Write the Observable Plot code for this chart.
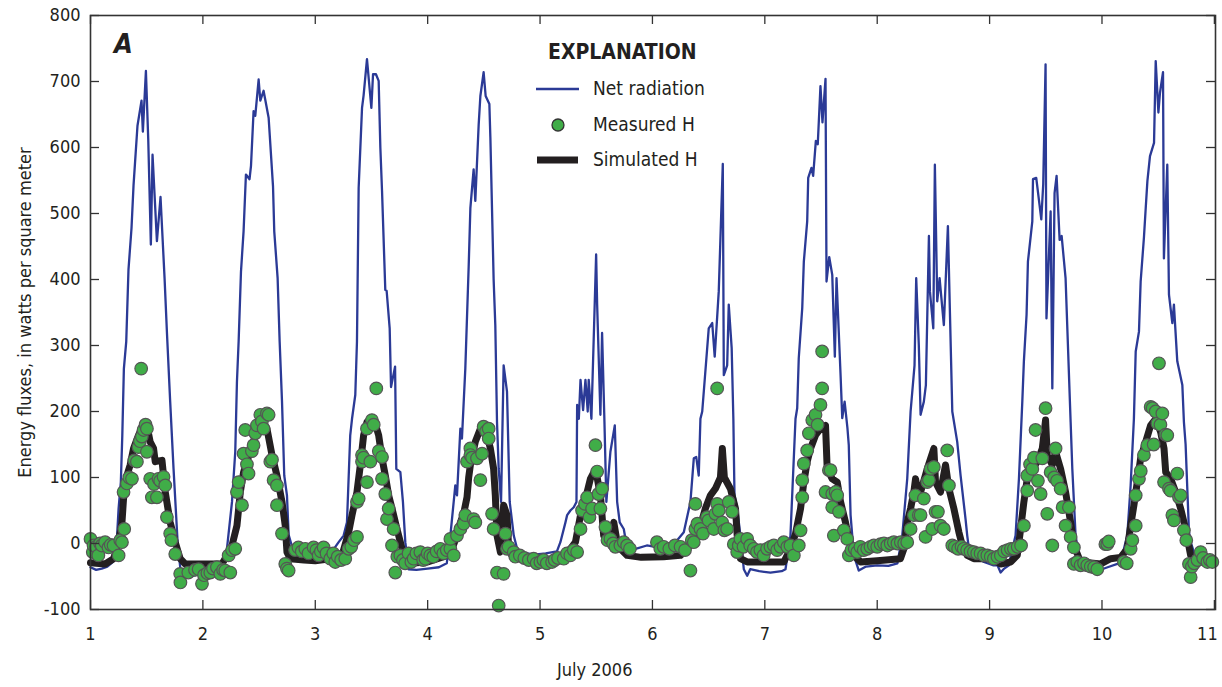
<!DOCTYPE html>
<html>
<head>
<meta charset="utf-8">
<script src="https://cdn.jsdelivr.net/npm/d3@7"></script>
<script src="https://cdn.jsdelivr.net/npm/@observablehq/plot@0.6"></script>
<style>
  html, body { margin: 0; padding: 0; background: #fff; }
  #wrap { position: relative; width: 1222px; height: 687px; font-family: "Liberation Sans Narrow", "DejaVu Sans Condensed", "Arial Narrow", sans-serif; font-stretch: condensed; color: #231f20; }
  .ov { position: absolute; white-space: nowrap; }
  #panel { left: 114px; top: 28px; font-size: 27px; font-weight: bold; font-style: italic; }
  #legtitle { left: 548px; top: 40px; font-size: 21px; font-weight: bold; }
  .legtxt { font-size: 19px; }
  #xlabel { left: 557px; top: 659px; font-size: 18px; }
</style>
</head>
<body>
<div id="wrap">
  <div id="chart"></div>
  <div class="ov" id="panel">A</div>
  <div class="ov" id="legtitle">EXPLANATION</div>
  <svg class="ov" style="left:530px;top:75px" width="60" height="100">
    <line x1="6" x2="49" y1="14" y2="14" stroke="#2b3a96" stroke-width="2.5"></line>
    <circle cx="28" cy="50" r="6" fill="#40ad48" stroke="#333" stroke-width="1.3"></circle>
    <line x1="7" x2="48" y1="85" y2="85" stroke="#231f20" stroke-width="7"></line>
  </svg>
  <div class="ov legtxt" style="left:593px;top:77px">Net radiation</div>
  <div class="ov legtxt" style="left:593px;top:113px">Measured H</div>
  <div class="ov legtxt" style="left:593px;top:148px">Simulated H</div>
  <div class="ov" id="xlabel">July 2006</div>
</div>
<script>
// ---- tick values ----
const xTicks = [1, 2, 3, 4, 5, 6, 7, 8, 9, 10, 11];
const yTicks = [-100, 0, 100, 200, 300, 400, 500, 600, 700, 800];

// ---- Net radiation: [day of July 2006, W/m2] ----
const netRadiation = [
  [1.00,-36],[1.05,-40],[1.10,-38],[1.15,-35],[1.20,-28],[1.235,7],[1.25,53],[1.27,93],[1.283,164],[1.297,265],[1.318,306],[1.338,415],[1.365,478],[1.383,543],[1.418,633],[1.454,671],[1.466,624],[1.493,716],[1.514,611],[1.537,453],[1.552,589],[1.591,458],[1.623,525],[1.659,402],[1.68,320],[1.709,215],[1.739,113],[1.775,2],[1.80,-39],[1.85,-48],[1.90,-50],[1.95,-47],[2.00,-45],[2.10,-48],[2.18,-45],
  [2.214,-8],[2.259,63],[2.288,139],[2.303,245],[2.318,306],[2.339,412],[2.362,473],[2.383,559],[2.415,552],[2.428,572],[2.451,655],[2.466,648],[2.496,703],[2.511,671],[2.54,686],[2.55,677],[2.585,645],[2.624,541],[2.635,473],[2.665,402],[2.683,306],[2.704,215],[2.724,103],[2.748,73],[2.763,13],[2.807,-13],[2.85,-12],[2.95,-15],[3.05,-14],[3.15,-12],
  [3.208,2],[3.252,12],[3.282,32],[3.311,164],[3.327,189],[3.356,225],[3.371,306],[3.386,539],[3.416,660],[3.43,679],[3.46,734],[3.499,660],[3.514,711],[3.54,711],[3.564,701],[3.579,600],[3.594,534],[3.623,384],[3.635,383],[3.662,326],[3.674,237],[3.71,268],[3.721,113],[3.757,108],[3.78,63],[3.801,2],[3.831,-39],[3.9,-40],[4.0,-38],[4.1,-36],[4.17,-30],
  [4.202,12],[4.246,88],[4.261,73],[4.291,174],[4.305,159],[4.335,265],[4.365,420],[4.38,508],[4.409,567],[4.424,519],[4.454,635],[4.469,678],[4.498,714],[4.516,678],[4.549,666],[4.558,615],[4.587,400],[4.602,330],[4.617,184],[4.632,113],[4.653,63],[4.676,270],[4.706,230],[4.73,63],[4.766,12],[4.796,-8],[4.85,-14],[4.95,-17],[5.05,-15],[5.15,-12],
  [5.181,2],[5.226,32],[5.241,43],[5.27,50],[5.30,55],[5.324,63],[5.33,210],[5.345,189],[5.36,248],[5.383,202],[5.404,248],[5.424,200],[5.433,248],[5.457,189],[5.499,438],[5.508,362],[5.537,195],[5.552,319],[5.573,184],[5.59,63],[5.626,139],[5.665,179],[5.686,63],[5.709,32],[5.745,22],[5.775,-8],[5.85,-8],[5.95,-3],[6.05,-6],[6.15,0],[6.22,5],
  [6.279,17],[6.338,63],[6.368,129],[6.39,131],[6.412,103],[6.427,189],[6.443,200],[6.501,326],[6.532,334],[6.554,283],[6.59,382],[6.626,575],[6.635,255],[6.665,270],[6.679,362],[6.705,296],[6.72,189],[6.73,73],[6.754,53],[6.783,12],[6.813,-39],[6.843,-49],[6.87,-39],[6.95,-42],[7.05,-44],[7.15,-42],[7.184,-39],
  [7.228,12],[7.273,189],[7.288,205],[7.302,281],[7.333,357],[7.347,427],[7.377,488],[7.386,554],[7.415,569],[7.43,557],[7.454,610],[7.471,605],[7.495,693],[7.513,638],[7.54,704],[7.549,397],[7.573,434],[7.6,407],[7.623,283],[7.638,402],[7.674,255],[7.689,190],[7.71,215],[7.735,175],[7.747,149],[7.763,43],[7.792,-18],[7.836,-41],[7.9,-35],[8.0,-33],[8.1,-34],[8.18,-30],
  [8.223,12],[8.267,98],[8.297,200],[8.332,270],[8.347,402],[8.37,301],[8.386,195],[8.415,215],[8.433,240],[8.46,466],[8.469,382],[8.499,326],[8.513,574],[8.534,367],[8.555,402],[8.593,331],[8.629,481],[8.646,357],[8.668,200],[8.712,154],[8.742,103],[8.786,37],[8.801,12],[8.816,-8],[8.87,-20],[8.95,-28],[9.03,-33],[9.07,-33],[9.098,-44],[9.13,-38],[9.172,-33],[9.2,-10],
  [9.231,12],[9.261,98],[9.291,215],[9.305,276],[9.329,347],[9.341,427],[9.38,488],[9.386,552],[9.415,554],[9.46,491],[9.477,544],[9.498,726],[9.506,341],[9.543,503],[9.558,235],[9.578,531],[9.596,557],[9.623,460],[9.641,466],[9.676,402],[9.721,184],[9.736,113],[9.765,12],[9.795,-18],[9.85,-28],[9.9,-33],[9.96,-38],[10.0,-39],[10.05,-36],[10.15,-30],
  [10.195,-8],[10.225,12],[10.255,88],[10.284,189],[10.3,291],[10.329,321],[10.344,397],[10.373,463],[10.389,508],[10.404,549],[10.427,587],[10.463,607],[10.478,731],[10.502,653],[10.516,683],[10.543,714],[10.551,432],[10.581,574],[10.596,377],[10.626,334],[10.64,362],[10.67,276],[10.715,240],[10.729,184],[10.744,150],[10.774,17],[10.789,2],[10.818,-13],[10.85,-20],[10.95,-22],[11.0,-25]
];

// ---- Simulated sensible heat flux H ----
const simulatedH = [
  [1.00,-29],[1.13,-31],[1.205,-23],[1.25,2],[1.28,32],[1.294,68],[1.324,103],[1.353,119],[1.383,144],[1.427,164],[1.472,182],[1.502,179],[1.531,154],[1.561,144],[1.576,124],[1.636,126],[1.65,103],[1.665,78],[1.709,32],[1.754,2],[1.798,-23],[1.843,-31],[2.0,-31],[2.17,-31],
  [2.214,-18],[2.259,-3],[2.303,27],[2.333,78],[2.362,108],[2.392,124],[2.437,149],[2.481,169],[2.526,184],[2.57,174],[2.615,134],[2.659,103],[2.704,63],[2.733,27],[2.748,-13],[2.778,-23],[2.9,-25],[3.0,-26],[3.1,-24],[3.238,-18],
  [3.297,17],[3.327,43],[3.371,78],[3.401,119],[3.43,164],[3.46,184],[3.49,189],[3.52,189],[3.564,164],[3.594,129],[3.623,103],[3.653,73],[3.683,53],[3.727,22],[3.757,2],[3.787,-18],[3.831,-30],[4.0,-28],[4.142,-20],
  [4.217,-8],[4.261,12],[4.291,32],[4.32,45],[4.35,70],[4.365,100],[4.38,119],[4.424,154],[4.469,174],[4.513,174],[4.558,144],[4.587,113],[4.602,73],[4.617,12],[4.647,-13],[4.676,58],[4.706,43],[4.721,-8],[4.75,-18],[4.796,-23],[4.914,-23],[5.09,-25],
  [5.196,-18],[5.27,-8],[5.315,2],[5.36,43],[5.389,63],[5.419,78],[5.448,98],[5.478,108],[5.508,100],[5.537,73],[5.566,12],[5.611,2],[5.656,32],[5.686,2],[5.715,-8],[5.775,-18],[5.9,-21],[6.1,-20],
  [6.249,-18],[6.309,-8],[6.368,2],[6.427,27],[6.471,53],[6.516,73],[6.56,83],[6.605,100],[6.622,144],[6.64,100],[6.694,83],[6.739,53],[6.754,12],[6.783,-23],[6.843,-28],[7.0,-28],[7.169,-28],
  [7.228,-8],[7.273,15],[7.318,53],[7.347,93],[7.377,124],[7.407,144],[7.451,164],[7.495,174],[7.54,179],[7.555,113],[7.6,98],[7.644,93],[7.674,63],[7.718,32],[7.748,7],[7.792,-18],[7.852,-28],[8.0,-26],[8.207,-23],
  [8.237,-8],[8.267,32],[8.297,53],[8.326,78],[8.341,98],[8.36,80],[8.386,78],[8.445,113],[8.504,144],[8.519,93],[8.563,78],[8.608,119],[8.638,83],[8.682,53],[8.727,17],[8.757,-3],[8.801,-18],[8.86,-23],[9.009,-23],[9.098,-31],[9.187,-28],
  [9.246,-18],[9.276,22],[9.305,63],[9.335,98],[9.38,113],[9.424,124],[9.469,144],[9.498,187],[9.513,134],[9.558,119],[9.587,139],[9.632,113],[9.676,78],[9.721,32],[9.75,-3],[9.81,-28],[9.988,-31],[10.077,-23],[10.166,-21],
  [10.225,-8],[10.255,27],[10.284,58],[10.314,93],[10.344,129],[10.389,154],[10.433,179],[10.478,189],[10.522,169],[10.552,144],[10.567,108],[10.611,98],[10.655,78],[10.7,53],[10.744,22],[10.789,-18],[10.849,-28],[11.0,-28]
];

// ---- Measured sensible heat flux H ----
const measuredH = [
  [1.00,7],[1.02,-13],[1.027,-3],[1.05,-5],[1.07,-18],[1.085,0],[1.10,-3],[1.13,2],[1.16,-6],[1.18,-2],[1.205,-3],[1.25,-18],[1.265,5],[1.28,2],[1.30,22],[1.294,78],[1.324,91],[1.345,100],[1.369,98],[1.39,126],[1.413,124],[1.427,146],[1.44,155],[1.451,265],[1.457,162],[1.472,172],[1.49,180],[1.502,174],[1.502,139],[1.531,98],[1.546,70],[1.565,90],[1.591,70],[1.605,98],[1.62,95],[1.65,101],[1.665,88],[1.68,40],[1.709,15],[1.72,5],[1.754,-16],[1.798,-46],[1.80,-59],
  [1.87,-44],[1.93,-40],[1.962,-39],[1.992,-61],[2.01,-48],[2.04,-45],[2.066,-44],[2.09,-38],[2.125,-36],[2.155,-46],[2.18,-40],[2.199,-41],[2.244,-44],
  [2.229,-18],[2.26,-10],[2.288,-8],[2.303,78],[2.318,93],[2.348,58],[2.362,136],[2.377,172],[2.392,120],[2.406,106],[2.436,140],[2.451,149],[2.466,167],[2.481,179],[2.511,195],[2.525,185],[2.54,174],[2.57,197],[2.585,195],[2.6,124],[2.615,127],[2.629,96],[2.659,88],[2.659,58],[2.704,15],[2.733,-31],[2.748,-38],[2.763,-41],
  [2.82,-10],[2.85,-6],[2.88,-12],[2.911,-8],[2.94,-15],[2.985,-6],[3.01,-10],[3.03,-18],[3.05,-12],[3.074,-6],[3.10,-15],[3.134,-23],[3.16,-15],[3.178,-28],[3.20,-20],[3.23,-25],[3.267,-23],[3.297,-8],[3.32,-5],[3.345,5],[3.371,10],
  [3.371,63],[3.386,68],[3.416,124],[3.416,134],[3.43,130],[3.46,174],[3.46,93],[3.49,124],[3.504,187],[3.52,180],[3.543,235],[3.565,140],[3.594,131],[3.594,98],[3.623,75],[3.638,37],[3.653,53],[3.683,-3],[3.697,22],[3.712,-44],[3.73,-20],[3.757,-18],[3.78,-25],
  [3.80,-30],[3.83,-15],[3.855,-28],[3.875,-23],[3.90,-15],[3.935,-13],[3.96,-25],[3.98,-23],[4.00,-15],[4.024,-18],[4.05,-20],[4.08,-12],[4.113,-8],[4.14,-15],[4.17,-10],[4.202,-8],[4.232,-18],
  [4.202,7],[4.261,12],[4.291,22],[4.32,30],[4.335,43],[4.35,124],[4.38,144],[4.38,134],[4.395,130],[4.409,37],[4.424,32],[4.439,129],[4.469,96],[4.484,136],[4.498,177],[4.52,170],[4.543,174],[4.543,159],[4.573,45],[4.587,22],[4.617,-44],[4.632,-94],[4.676,-46],[4.692,15],[4.706,-8],[4.72,-5],[4.766,-13],[4.78,-20],
  [4.82,-18],[4.86,-22],[4.90,-25],[4.943,-23],[4.97,-30],[5.003,-28],[5.03,-25],[5.06,-30],[5.107,-28],[5.13,-25],[5.16,-22],[5.211,-23],[5.24,-15],[5.27,-18],[5.30,-10],[5.33,-13],
  [5.36,22],[5.374,50],[5.40,60],[5.419,70],[5.44,40],[5.463,53],[5.493,149],[5.508,109],[5.52,75],[5.537,53],[5.552,83],[5.582,25],[5.60,5],[5.626,7],[5.65,0],[5.67,-5],[5.715,-3],[5.745,2],[5.775,-3],[5.80,-8],
  [6.04,2],[6.07,-8],[6.10,-5],[6.15,-8],[6.20,-3],[6.25,-5],[6.29,-10],
  [6.338,-41],[6.35,5],[6.368,2],[6.382,60],[6.382,22],[6.40,30],[6.427,22],[6.45,15],[6.486,40],[6.50,35],[6.546,22],[6.56,45],[6.576,60],[6.576,235],[6.59,50],[6.62,32],[6.64,20],[6.665,22],[6.679,63],[6.709,48],[6.724,-1],[6.754,-13],[6.768,-3],[6.783,7],
  [6.81,-5],[6.843,7],[6.87,-3],[6.902,-8],[6.93,-13],[6.96,-10],[6.99,-18],[7.02,-8],[7.05,-5],[7.08,-3],[7.11,-10],[7.14,-5],[7.169,2],[7.20,-5],[7.228,-3],[7.258,-18],[7.302,-3],
  [7.318,20],[7.333,70],[7.333,96],[7.347,121],[7.377,141],[7.392,167],[7.422,187],[7.451,195],[7.47,180],[7.495,210],[7.51,235],[7.51,291],[7.54,78],[7.57,111],[7.585,111],[7.6,75],[7.63,78],[7.6,55],[7.614,12],[7.644,73],[7.66,48],[7.703,20],[7.733,7],[7.748,-18],[7.77,-10],
  [7.80,-8],[7.822,-13],[7.85,-5],[7.88,-10],[7.911,-8],[7.94,-5],[7.97,-3],[8.0,-5],[8.03,-1],[8.06,0],[8.09,-3],[8.12,0],[8.148,2],[8.18,0],[8.21,2],[8.24,0],[8.267,2],
  [8.297,22],[8.326,43],[8.34,73],[8.37,43],[8.386,43],[8.415,68],[8.43,10],[8.445,93],[8.46,96],[8.475,113],[8.49,22],[8.504,116],[8.519,48],[8.54,48],[8.563,27],[8.593,22],[8.623,141],[8.638,88],[8.668,-3],[8.69,-5],[8.72,-8],[8.75,-5],[8.77,-8],[8.80,-10],[8.83,-12],[8.86,-13],[8.89,-15],[8.92,-15],[8.95,-18],[8.98,-18],[9.01,-20],[9.038,-23],[9.07,-20],[9.10,-18],[9.13,-12],[9.16,-10],[9.19,-8],[9.216,-8],[9.25,-5],[9.28,-3],
  [9.305,27],[9.335,80],[9.335,103],[9.36,120],[9.38,113],[9.395,130],[9.409,172],[9.43,95],[9.454,75],[9.469,129],[9.498,205],[9.513,45],[9.543,108],[9.558,-3],[9.575,100],[9.587,144],[9.60,95],[9.632,83],[9.65,55],[9.676,27],[9.706,55],[9.721,10],[9.75,-6],[9.75,-31],[9.78,-28],[9.81,-33],[9.84,-30],[9.869,-33],[9.90,-35],[9.93,-36],[9.958,-39],[10.03,-1],[10.047,-1],[10.06,3],
  [10.195,-28],[10.22,-30],[10.255,-8],[10.27,5],[10.3,27],[10.3,73],[10.329,98],[10.345,110],[10.373,134],[10.403,149],[10.433,207],[10.45,205],[10.46,150],[10.478,200],[10.493,182],[10.507,273],[10.52,180],[10.537,197],[10.552,93],[10.565,165],[10.581,164],[10.596,83],[10.61,80],[10.626,43],[10.64,35],[10.67,106],[10.685,70],[10.7,73],[10.729,20],[10.75,5],[10.774,-31],[10.789,-51],[10.80,-35],[10.82,-30],[10.85,-25],[10.878,-13],[10.90,-22],[10.938,-28],[10.96,-25],[10.982,-28]
];

const toRows = (pairs) => pairs.map(([t, v]) => ({t, v}));
const net = toRows(netRadiation);
const sim = toRows(simulatedH);
const meas = toRows(measuredH);

const W = 1222, H = 687, mL = 90, mR = 7, mT = 15, mB = 78;
const plotW = W - mL - mR, plotH = H - mT - mB, tickLen = 9;
const ink = "#333";
const lastX = xTicks[xTicks.length - 1];

const chart = Plot.plot({
  width: W, height: H,
  marginLeft: mL, marginRight: mR, marginTop: mT, marginBottom: mB,
  style: {fontFamily: '"Liberation Sans Narrow", "DejaVu Sans Condensed", "Arial Narrow", sans-serif', fontSize: "18px", color: "#231f20", background: "#fff"},
  x: {domain: [1, 11.01]},
  y: {domain: [-100, 800]},
  marks: [
    Plot.line(net, {x: "t", y: "v", stroke: "#2b3a96", strokeWidth: 2.3}),
    Plot.line(sim, {x: "t", y: "v", stroke: "#231f20", strokeWidth: 7, strokeLinejoin: "round", strokeLinecap: "round"}),
    Plot.dot(meas, {x: "t", y: "v", r: 6.3, fill: "#40ad48", stroke: "#555", strokeWidth: 1.2}),
    Plot.tickY(yTicks, {y: d => d, insetRight: plotW - tickLen, stroke: ink, strokeWidth: 1.3}),
    Plot.tickY(yTicks, {y: d => d, insetLeft: plotW - tickLen, stroke: ink, strokeWidth: 1.3}),
    Plot.tickX(xTicks, {x: d => d, insetTop: plotH - tickLen, stroke: ink, strokeWidth: 1.3}),
    Plot.tickX(xTicks, {x: d => d, insetBottom: plotH - tickLen, stroke: ink, strokeWidth: 1.3}),
    Plot.frame({stroke: ink, strokeWidth: 1.6}),
    Plot.axisY({ticks: yTicks, tickSize: 0, tickPadding: 10, tickFormat: d => d,
      label: "Energy fluxes, in watts per square meter", labelAnchor: "center", labelOffset: 72, labelArrow: "none"}),
    Plot.axisX({ticks: xTicks.filter(d => d !== lastX), tickSize: 0, tickPadding: 18, tickFormat: d => d, label: null}),
    Plot.axisX({ticks: [lastX], tickSize: 0, tickPadding: 18, tickFormat: d => d, label: null, dx: -7})
  ]
});
document.getElementById("chart").appendChild(chart);
</script>
</body>
</html>
